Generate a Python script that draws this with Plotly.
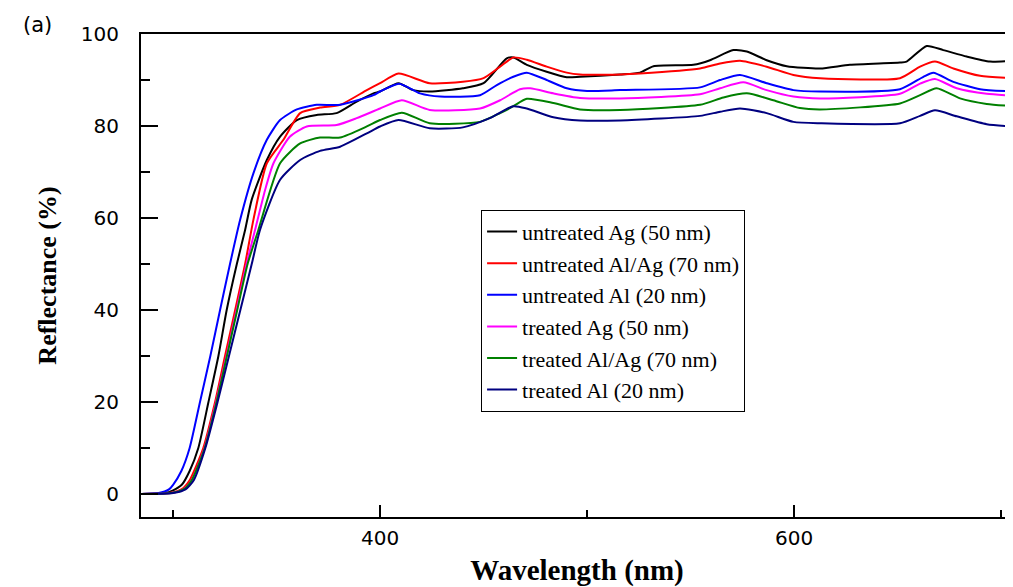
import plotly.graph_objects as go

# ---- data ----
names = ["untreated Ag (50 nm)", "untreated Al/Ag (70 nm)", "untreated Al (20 nm)",
         "treated Ag (50 nm)", "treated Al/Ag (70 nm)", "treated Al (20 nm)"]
colors = ["#000000", "#FF0000", "#0000FF", "#FF00FF", "#008000", "#000080"]

wl_untreated_ag = [284.5, 296, 300, 304.2, 308, 312.2, 317.1, 321.9, 325.9, 330.8, 334.8, 338, 345.3, 351.7,
                   359.8, 369.4, 379, 388.7, 396.8, 400, 408.9, 416, 424, 440, 450, 461.2, 464.4, 470.9,
                   480.5, 490.2, 496.6, 516, 525.6, 532.1, 551.4, 559.4, 570.7, 577.2, 586.8, 596.5,
                   612.6, 627, 651.2, 654.4, 664.1, 672.1, 683.4, 694.7, 705.9]
r_untreated_ag = [0, 0.2, 0.8, 2, 5, 10, 20, 30, 40, 50, 57.4, 64, 72.6, 77.7,
                  81.3, 82.4, 82.8, 85.3, 87.1, 87.5, 89.3, 87.8, 87.5, 88.2, 89.3, 94.7, 94.9, 93.3,
                  91.8, 90.6, 90.7, 91.2, 91.6, 93, 93.3, 94.3, 96.5, 96.2, 94.3, 93,
                  92.5, 93.3, 93.8, 94, 97.4, 96.5, 95.1, 94, 94.2]

wl_untreated_alag = [284.5, 298, 304, 308, 314.6, 320.3, 325.1, 330, 334.8, 338.8, 345.3, 353.3, 361.4,
                     371, 380.7, 393.6, 400, 408.9, 424, 440, 450, 458, 464.4, 470.9, 480.5, 490.2,
                     496.6, 516, 525.6, 554.6, 564.3, 573.9, 586.8, 599.7, 612.6, 651.2, 660.9,
                     668.1, 677, 689.9, 705.9]
r_untreated_alag = [0, 0.2, 1, 3, 10, 20, 30, 40, 50, 59.6, 71.9, 77, 82.8,
                    84, 84.6, 87.8, 89.3, 91.4, 89.3, 89.6, 90.4, 92.9, 94.9, 94.4, 92.9, 91.6,
                    91.2, 91.2, 91.4, 92.5, 93.6, 94.2, 92.9, 91.1, 90.4, 90.4, 92.9,
                    94, 92.5, 90.9, 90.4]

wl_untreated_al = [284.5, 293, 298, 300, 304, 308, 313, 318, 322.7, 327.5, 332.4, 338.8, 345.3, 351.7,
                   359.8, 369.4, 380.7, 396.8, 400, 409.2, 419.3, 429, 448.3, 456.4, 464.4, 470.9,
                   480.5, 490.2, 500, 516, 554.6, 564.3, 573.9, 586.8, 599.7, 612.6, 651.2, 662.5,
                   667.3, 677, 689.9, 705.9]
r_untreated_al = [0, 0.2, 1, 2, 5, 10, 20, 30, 40, 50, 59.6, 69.7, 77, 81.3,
                  83.6, 84.6, 84.6, 86.7, 87.5, 89.2, 87.1, 86.4, 86.7, 88.9, 90.7, 91.6,
                  90, 88.2, 87.6, 87.8, 88.4, 90, 91.1, 89.3, 87.8, 87.5, 88, 90.7,
                  91.6, 89.6, 88, 87.5]

wl_treated_ag = [284.5, 299, 305, 309, 315.2, 320.8, 325.8, 330.7, 335.5, 339.6, 344.4, 348.5, 356.5,
                 364.6, 379, 388.7, 400, 410.5, 424, 448.3, 458, 467.6, 472.5, 483.7, 496.6, 516,
                 554.6, 564.3, 575.5, 586.8, 599.7, 612.6, 651.2, 660.9, 668.1, 678.6, 693.1, 705.9]
r_treated_ag = [0, 0.2, 1, 3, 10, 20, 30, 40, 50, 57.4, 66, 71.9, 77.7,
                79.9, 80.2, 81.7, 83.8, 85.6, 83.5, 83.8, 85.6, 88, 88.2, 87.1, 86.1, 86,
                86.9, 88.2, 89.5, 87.8, 86.4, 86, 87, 89.2, 90.2, 88.2, 87, 86.6]

wl_treated_alag = [284.5, 299, 305, 309, 315.3, 321, 326, 331, 336, 341.2, 351.7, 361.4, 371, 380.7,
                   393.6, 400, 410.5, 424, 448.3, 458, 464.4, 470.9, 483.7, 496.6, 516, 554.6,
                   565.9, 577.2, 590, 602.9, 612.6, 651.2, 660.9, 668.9, 680.2, 693.1, 705.9]
r_treated_alag = [0, 0.2, 1, 3, 10, 20, 30, 40, 50, 57.4, 71.9, 76.2, 77.5, 77.5,
                  79.9, 81.3, 82.9, 80.6, 80.9, 82.8, 84.3, 85.9, 85, 83.6, 83.5, 84.6,
                  86.2, 87.1, 85.6, 83.9, 83.6, 84.9, 86.7, 88.2, 86, 84.8, 84.3]

wl_treated_al = [284.5, 300, 306, 310, 315.6, 321.5, 327, 332.5, 338, 342, 351.7, 361.4, 371, 380.7,
                 393.6, 400, 408.9, 424, 440, 453, 464.4, 470.9, 483.7, 496.6, 516, 554.6, 564.3,
                 573.9, 586.8, 599.7, 612.6, 651.2, 660.9, 668.1, 678.6, 693.1, 705.9]
r_treated_al = [0, 0.2, 1, 3, 10, 20, 30, 40, 50, 57.4, 68.3, 72.6, 74.6, 75.5,
                78.4, 79.9, 81.3, 79.5, 79.7, 81.7, 84.3, 83.8, 81.9, 81.2, 81.2, 82.2, 83.1,
                83.8, 82.8, 80.9, 80.6, 80.6, 82.2, 83.4, 82.1, 80.4, 79.9]

series_x = [wl_untreated_ag, wl_untreated_alag, wl_untreated_al,
            wl_treated_ag, wl_treated_alag, wl_treated_al]
series_y = [r_untreated_ag, r_untreated_alag, r_untreated_al,
            r_treated_ag, r_treated_alag, r_treated_al]

x_tickvals = [400, 600]
y_tickvals = [0, 20, 40, 60, 80, 100]

fig = go.Figure()
for nm, c, xs, ys in zip(names, colors, series_x, series_y):
    fig.add_trace(go.Scatter(x=xs, y=ys, mode="lines", name=nm,
                             line=dict(color=c, width=2, shape="spline", smoothing=0.6)))

axis_font = dict(family="DejaVu Sans", size=20, color="black")
title_font = dict(family="Liberation Serif", color="black")

# the page body adds an 8 px offset, so the figure is 8 px smaller and margins 8 px less
fig.update_layout(
    width=1005, height=579,
    margin=dict(l=133, r=0, t=26, b=70, autoexpand=False),
    paper_bgcolor="white", plot_bgcolor="white",
    showlegend=True,
    legend=dict(x=0.39, y=0.636, xanchor="left", yanchor="top",
                bgcolor="white", bordercolor="black", borderwidth=1,
                font=dict(family="Liberation Serif", size=22, color="black"),
                itemwidth=30, tracegroupgap=0),
    xaxis=dict(range=[284.5, 705.8], showgrid=False, zeroline=False, automargin=False,
               showline=True, linecolor="black", linewidth=2, mirror=True,
               tickmode="array", tickvals=x_tickvals, ticks="inside", ticklen=12, tickwidth=2,
               tickcolor="black", tickfont=axis_font, ticklabelstandoff=2,
               minor=dict(dtick=100, tick0=0, ticks="inside", ticklen=7, tickwidth=2, tickcolor="black"),
               title=dict(text="<b>Wavelength (nm)</b>", font=dict(size=29, **title_font), standoff=12)),
    yaxis=dict(range=[-5, 100], showgrid=False, zeroline=False, automargin=False,
               showline=True, linecolor="black", linewidth=2, mirror=False,
               tickmode="array", tickvals=y_tickvals, ticks="inside", ticklen=17, tickwidth=2,
               tickcolor="black", tickfont=axis_font, ticklabelstandoff=16,
               minor=dict(dtick=10, tick0=0, ticks="inside", ticklen=9, tickwidth=2, tickcolor="black"),
               title=dict(text="<b>Reflectance (%)</b>", font=dict(size=26, **title_font), standoff=17)),
    annotations=[dict(text="(a)", xref="paper", yref="paper", x=-0.119, y=1.0186,
                      xanchor="center", yanchor="middle", showarrow=False,
                      font=dict(family="DejaVu Sans", size=21, color="black"))],
)

fig.write_html("out.html")
